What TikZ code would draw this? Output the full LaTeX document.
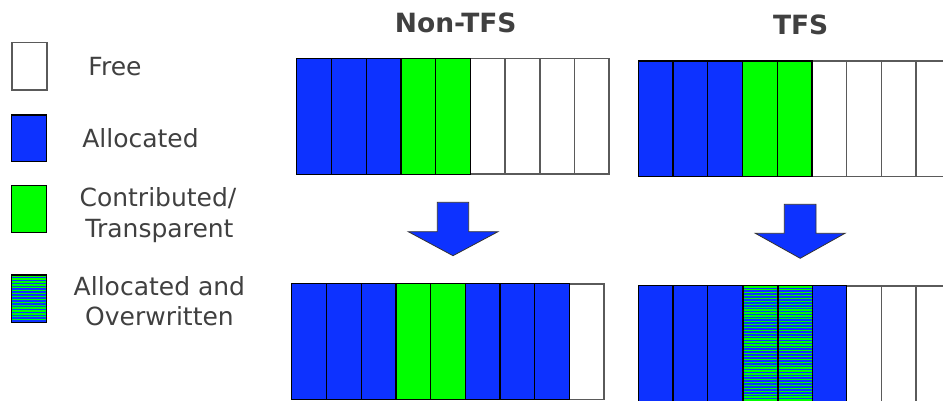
\documentclass[tikz,border=0pt]{standalone}
\usepackage{fontspec}
\setmainfont{DejaVu Sans}
\definecolor{allocblue}{RGB}{13,50,255}
\definecolor{contribgreen}{RGB}{0,255,0}
\definecolor{labelgray}{RGB}{64,64,64}
\definecolor{freeedge}{RGB}{90,90,90}
\newcommand{\cellw}{34.73}
% striped cell: x1, y1, x2, y2
\newcommand{\owcell}[4]{%
  \begin{scope}
    \clip (#1,#2) rectangle (#3,#4);
    \fill[allocblue] (#1,#2) rectangle (#3,#4);
    \foreach \k in {0,...,45}
      \draw[contribgreen, line width=1.3pt] (#1,{#2+1.2+2.9*\k}) -- (#3,{#2+1.2+2.9*\k});
  \end{scope}
  \draw[black, line width=1.3pt] (#1,#2) rectangle (#3,#4);
}

\tikzset{
  free/.style={fill=white, draw=freeedge, line width=1.6pt},
  alloc/.style={fill=allocblue, draw=black, line width=1.3pt},
  contrib/.style={fill=contribgreen, draw=black, line width=1.3pt},
  legendtext/.style={text=labelgray, anchor=base, font=\fontsize{25}{30}\selectfont},
  heading/.style={text=labelgray, anchor=base, font=\fontsize{26.5}{30}\selectfont\bfseries},
  bigarrow/.style={fill=allocblue, draw=black!80, line width=0.8pt, line join=miter}
}

\begin{document}
\begin{tikzpicture}[x=1pt, y=-1pt]
        \useasboundingbox (0,0) rectangle (943,401);

        % legend
        \draw[free] (11.7,42.7) rectangle (46.7,90);
        \draw[alloc] (11.7,115) rectangle (46.7,161.7);
        \draw[contrib] (11.7,185.7) rectangle (46.7,232.7);
        \owcell{11.7}{275}{46.7}{322.3}

        \node[legendtext] (lgfree) at (115,75.7) {Free};
        \node[legendtext] (lgalloc) at (140.5,147.3) {Allocated};
        \node[legendtext] (lgcontriba) at (158,206.7) {Contributed/};
        \node[legendtext] (lgcontribb) at (159.5,237) {Transparent};
        \node[legendtext] (lgowa) at (159.4,295) {Allocated and};
        \node[legendtext] (lgowb) at (159.5,325) {Overwritten};

        % headings
        \node[heading] (hdnontfs) at (455.7,32.7) {Non-TFS};
        \node[heading] (hdtfs) at (800.7,34.3) {TFS};

        % Non-TFS, before and after (drawn right to left)
        \foreach \s [count=\i from 0] in {free,free,free,free,contrib,contrib,alloc,alloc,alloc}
          \draw[\s] ({296.7+(8-\i)*\cellw},58.7) rectangle ++(\cellw,115.6);
        \foreach \s [count=\i from 0] in {free,alloc,alloc,alloc,contrib,contrib,alloc,alloc,alloc}
          \draw[\s] ({291.7+(8-\i)*\cellw},283.7) rectangle ++(\cellw,115.6);

        % TFS, before and after
        \foreach \s [count=\i from 0] in {free,free,free,free,contrib,contrib,alloc,alloc,alloc}
          \draw[\s] ({638.3+(8-\i)*\cellw},61) rectangle ++(\cellw,115.7);
        \foreach \s [count=\i from 0] in {free,free,free,alloc,alloc,alloc,alloc,alloc,alloc}
          \draw[\s] ({638.3+(8-\i)*\cellw},285.7) rectangle ++(\cellw,115.7);
        \owcell{743.3}{285.7}{778}{401.4}
        \owcell{778}{285.7}{812.7}{401.4}

        % arrows
        \draw[bigarrow] (437.3,202.3) -- (468.7,202.3) -- (468.7,231.7) -- (498,231.7)
          -- (453,255.7) -- (408.3,231.7) -- (437.3,231.7) -- cycle;
        \draw[bigarrow] (784.3,204.3) -- (816,204.3) -- (816,233.3) -- (845,233.3)
          -- (800.2,258.3) -- (755.3,233.3) -- (784.3,233.3) -- cycle;
\end{tikzpicture}
\end{document}
